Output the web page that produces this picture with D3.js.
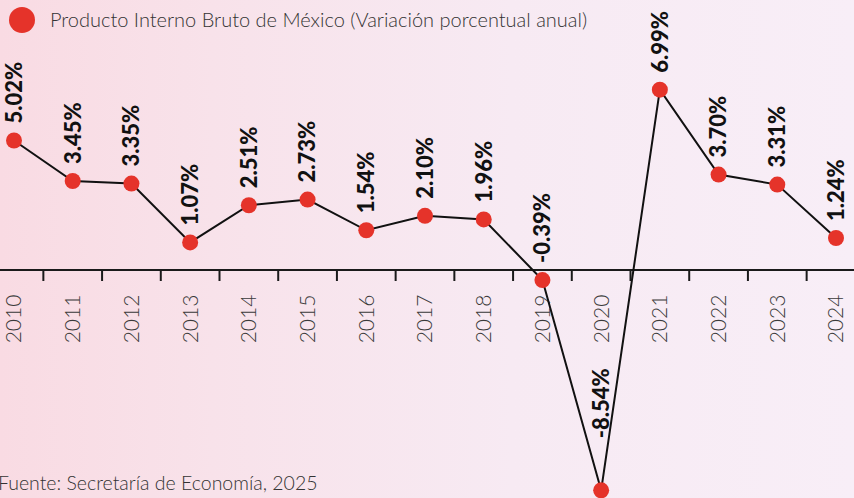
<!DOCTYPE html>
<html>
<head>
<meta charset="utf-8">
<script src="https://cdn.jsdelivr.net/npm/d3@7"></script>
<style>
  body { margin: 0; }
  svg { display: block; font-family: Lato, "Open Sans", sans-serif; }
</style>
</head>
<body>
<svg id="chart" width="854" height="498"></svg>
<script>
/* PIB de México, variación anual */
const years = ["2010", "2011", "2012", "2013", "2014", "2015", "2016", "2017",
    "2018", "2019", "2020", "2021", "2022", "2023", "2024"];
const growth = [5.02, 3.45, 3.35, 1.07, 2.51, 2.73, 1.54, 2.10, 1.96, -0.39,
    -8.54, 6.99, 3.70, 3.31, 1.24];
const valueLabels = ["5.02%", "3.45%", "3.35%", "1.07%", "2.51%", "2.73%", "1.54%",
    "2.10%", "1.96%", "-0.39%", "-8.54%", "6.99%", "3.70%", "3.31%", "1.24%"];

const width = 854;
const height = 498;
const red = "#e5332a";

const svg = d3.select("svg#chart");

// background gradient
const defs = svg.append("defs");
const grad = defs.append("linearGradient").attr("id", "bg")
    .attr("x1", "0%").attr("x2", "100%").attr("y1", "0%").attr("y2", "0%");
grad.append("stop").attr("offset", "0%").attr("stop-color", "#f9dbe3");
grad.append("stop").attr("offset", "25%").attr("stop-color", "#f8e2ea");
grad.append("stop").attr("offset", "60%").attr("stop-color", "#f7eaf3");
grad.append("stop").attr("offset", "100%").attr("stop-color", "#f8eef7");
svg.append("rect").attr("width", width).attr("height", height).attr("fill", "url(#bg)");

// scales
const x = d3.scalePoint().domain(years).range([14, 836]);
const y = d3.scaleLinear().domain([-10, 10]).range([528, 12]);
const step = x.step();

// zero axis
svg.append("line")
    .attr("x1", 0).attr("x2", width)
    .attr("y1", y(0)).attr("y2", y(0))
    .attr("stroke", "#1a1a1a").attr("stroke-width", 2);

// ticks between years
svg.selectAll("line.tick")
    .data(years.slice(1))
    .join("line")
    .attr("class", "tick")
    .attr("x1", (d) => x(d) - step / 2)
    .attr("x2", (d) => x(d) - step / 2)
    .attr("y1", y(0))
    .attr("y2", y(0) + 11)
    .attr("stroke", "#1a1a1a").attr("stroke-width", 2);

// year labels
svg.selectAll("text.year")
    .data(years)
    .join("text")
    .attr("class", "year")
    .attr("transform", (d) => `translate(${x(d)},319) rotate(-90)`)
    .attr("text-anchor", "middle")
    .attr("dy", "0.35em")
    .attr("fill", "#3a3a3a")
    .style("font-size", "21px")
    .style("font-weight", 300)
    .text((d) => d);

const data = years.map((yr, i) => ({ year: yr, value: growth[i], label: valueLabels[i] }));

// line
svg.append("path")
    .datum(data)
    .attr("fill", "none")
    .attr("stroke", "#111")
    .attr("stroke-width", 2)
    .attr("d", d3.line().x((d) => x(d.year)).y((d) => y(d.value)));

// dots
svg.selectAll("circle.dot")
    .data(data)
    .join("circle")
    .attr("class", "dot")
    .attr("cx", (d) => x(d.year))
    .attr("cy", (d) => y(d.value))
    .attr("r", 8)
    .attr("fill", red);

// value labels
svg.selectAll("text.value")
    .data(data)
    .join("text")
    .attr("class", "value")
    .attr("transform", (d) => {
        const off = d.value < -5 ? 52 : 17;
        return `translate(${x(d.year)},${y(d.value) - off}) rotate(-90)`;
    })
    .attr("text-anchor", "start")
    .attr("dy", "0.36em")
    .attr("fill", "#111")
    .style("font-size", "22px")
    .style("font-weight", 900)
    .text((d) => d.label);

// legend
svg.append("circle").attr("cx", 22).attr("cy", 20).attr("r", 13).attr("fill", red);
svg.append("text")
    .attr("x", 50).attr("y", 27)
    .attr("fill", "#333")
    .style("font-size", "20px")
    .style("font-weight", 300)
    .text("Producto Interno Bruto de México (Variación porcentual anual)");

// source
svg.append("text")
    .attr("x", -2).attr("y", 490)
    .attr("fill", "#333")
    .style("font-size", "19.5px")
    .style("font-weight", 300)
    .text("Fuente: Secretaría de Economía, 2025");
</script>
</body>
</html>
